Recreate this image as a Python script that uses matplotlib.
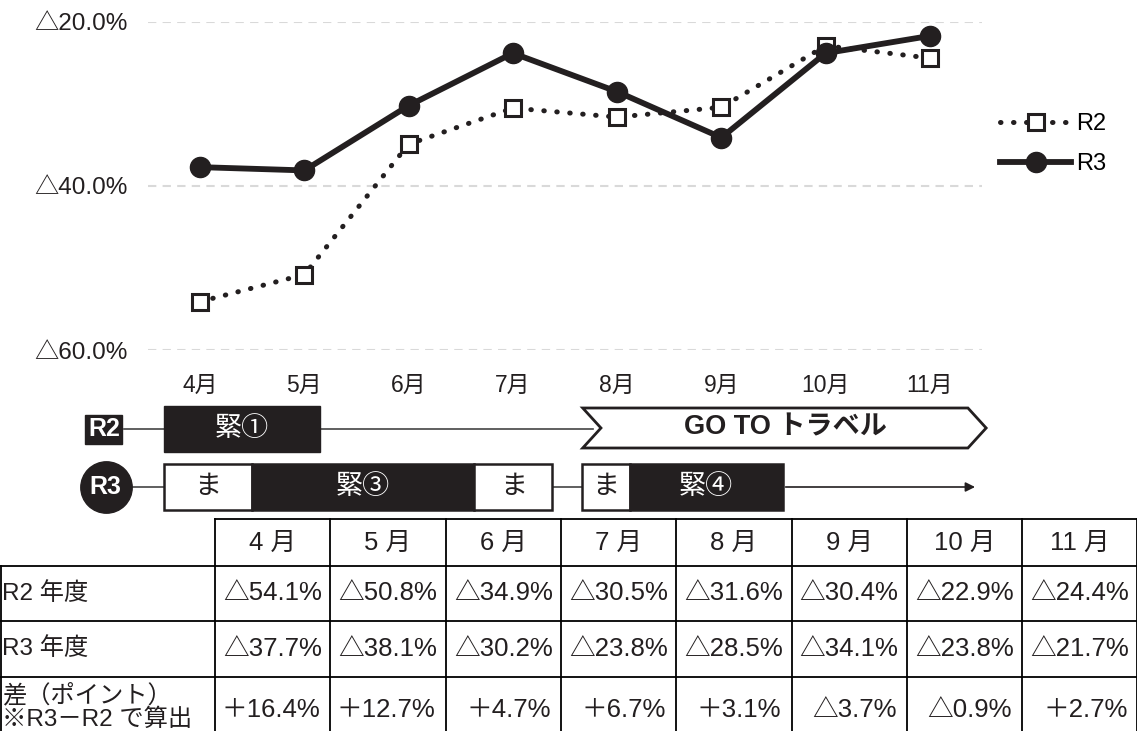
import numpy as np
import matplotlib.pyplot as plt
from matplotlib.patches import Rectangle, Polygon

plt.rcParams['font.family'] = ['Liberation Sans', 'Noto Sans CJK JP', 'DejaVu Sans']

# データ
months = ['4月', '5月', '6月', '7月', '8月', '9月', '10月', '11月']
table_months = ['4 月', '5 月', '6 月', '7 月', '8 月', '9 月', '10 月', '11 月']
r2 = [54.1, 50.8, 34.9, 30.5, 31.6, 30.4, 22.9, 24.4]   # △(減少率)
r3 = [37.7, 38.1, 30.2, 23.8, 28.5, 34.1, 23.8, 21.7]
yticks = [20, 40, 60]
row_labels = ['R2 年度', 'R3 年度', '差（ポイント）\n※R3－R2 で算出']

# 期間（月の位置で表す, 4月=0）
r2_names = ['緊①']
r2_start = [-0.35]
r2_end = [1.15]
goto_start, goto_end = 3.67, 7.365
r3_names = ['ま', '緊③', 'ま', 'ま', '緊④']
r3_start = [-0.35, 0.5, 2.63, 3.66, 4.12]
r3_end = [0.5, 2.63, 3.38, 4.12, 5.59]
r3_dark = [False, True, False, False, True]
r3_arrow_end = 7.46

dark = '#231f20'
W, H = 1137, 731
fig = plt.figure(figsize=(W / 100, H / 100), dpi=100)


def px(x0, y0, x1, y1):
    return [x0 / W, 1 - y1 / H, (x1 - x0) / W, (y1 - y0) / H]


# ---- 折れ線グラフ ----
ax = fig.add_axes(px(148, 22, 982, 350))
x = np.arange(len(months))
ax.plot(x, r2, color=dark, lw=3.6, linestyle=(0, (0.1, 2.5)), dash_capstyle='round',
        marker='s', markersize=11, markerfacecolor='white', markeredgecolor=dark,
        markeredgewidth=2.2, label='R2', clip_on=False, zorder=3)
ax.plot(x, r3, color=dark, lw=4.2, marker='o', markersize=14.5,
        label='R3', clip_on=False, zorder=4)
ax.set_xlim(-0.5, 7.5)
ax.set_ylim(60, 20)
ax.set_yticks(yticks)
ax.set_yticklabels(['△%.1f%%' % v for v in yticks], fontsize=17.5, color=dark)
ax.set_xticks(x)
ax.set_xticklabels(months, fontsize=16.5, color=dark)
ax.tick_params(length=0, axis='y', pad=15)
ax.tick_params(length=0, axis='x', pad=17)
ax.grid(axis='y', color='#d9d9d9', lw=1.5, linestyle=(0, (4, 3)))
for s in ax.spines.values():
    s.set_visible(False)
ax.legend(loc='center left', bbox_to_anchor=(0.861, 0.803), bbox_transform=fig.transFigure,
          frameon=False, fontsize=17, handlelength=3.0, handletextpad=0.2,
          labelspacing=0.75)

# ---- 期間表示 ----
tl = fig.add_axes(px(148, 400, 982, 515))
tl.set_xlim(-0.5, 7.5)
tl.set_ylim(515, 400)
tl.axis('off')

y2, y3 = 429, 487
tl.plot([-0.73, goto_start + 0.1], [y2, y2], color='#444444', lw=1.2, zorder=1, clip_on=False)
tl.text(-0.923, y2, 'R2', color='white', fontsize=18, fontweight='bold', ha='center', va='center',
        bbox=dict(boxstyle='square,pad=0.1', fc=dark, ec=dark))
for name, s, e in zip(r2_names, r2_start, r2_end):
    tl.add_patch(Rectangle((s, 406), e - s, 46, fc=dark, ec=dark, zorder=2, clip_on=False))
    tl.text((s + e) / 2, y2, name, color='white', fontsize=19.5, ha='center', va='center', zorder=3)

tip = 0.175
goto = Polygon([(goto_start, 408), (goto_end, 408), (goto_end + tip, 428),
                (goto_end, 448), (goto_start, 448), (goto_start + tip, 428)],
               closed=True, fc='white', ec=dark, lw=2, zorder=2, clip_on=False)
tl.add_patch(goto)
tl.text((goto_start + goto_end) / 2 + 0.1, 427, 'GO TO トラベル', fontsize=19.5, fontweight='bold',
        ha='center', va='center', color=dark, zorder=3)

tl.plot([-0.906, r3_end[-1]], [y3, y3], color='#444444', lw=1.2, zorder=1, clip_on=False)
tl.annotate('', xy=(r3_arrow_end, y3), xytext=(r3_end[-1], y3),
            arrowprops=dict(arrowstyle='-|>', color=dark, lw=1.2, mutation_scale=14))
tl.plot([-0.906], [y3], marker='o', markersize=37, color=dark, clip_on=False, zorder=2)
tl.text(-0.906, y3, 'R3', color='white', fontsize=18, fontweight='bold', ha='center', va='center', zorder=3)
for name, s, e, d in zip(r3_names, r3_start, r3_end, r3_dark):
    fc = dark if d else 'white'
    tc = 'white' if d else dark
    tl.add_patch(Rectangle((s, 464), e - s, 46, fc=fc, ec=dark, lw=1.8, zorder=2, clip_on=False))
    tl.text((s + e) / 2, y3, name, color=tc, fontsize=19.5, ha='center', va='center', zorder=3)

# ---- 表 ----
tb = fig.add_axes([0, 0, 1, 1], zorder=-1)
tb.set_xlim(0, W)
tb.set_ylim(H, 0)
tb.axis('off')
col0, colw = 215, 115.3
rows = [519, 566, 621, 677, 745]
right = col0 + colw * len(months)
lc = '#000000'
tb.plot([col0, right], [rows[0], rows[0]], color=lc, lw=1.3)
for r in rows[1:4]:
    tb.plot([1, right], [r, r], color=lc, lw=1.3)
tb.plot([1, 1], [rows[1], rows[-1]], color=lc, lw=1.3)
for i in range(len(months) + 1):
    xx = col0 + colw * i
    tb.plot([xx, xx], [rows[0], rows[-1]], color=lc, lw=1.3)

# 差 = R3 - R2（減少率なので符号が逆）
diff = [r2v - r3v for r2v, r3v in zip(r2, r3)]
fs = 18.5
for i, m in enumerate(table_months):
    cx = col0 + colw * (i + 0.5)
    tb.text(cx, (rows[0] + rows[1]) / 2, m, fontsize=fs, ha='center', va='center', color=dark)
    tb.text(cx, (rows[1] + rows[2]) / 2, '△%.1f%%' % r2[i], fontsize=fs, ha='center', va='center', color=dark)
    tb.text(cx, (rows[2] + rows[3]) / 2, '△%.1f%%' % r3[i], fontsize=fs, ha='center', va='center', color=dark)
    d = diff[i]
    s = ('＋%.1f%%' % d) if d > 0 else ('△%.1f%%' % abs(d))
    tb.text(col0 + colw * (i + 1) - 10, 710, s, fontsize=fs, ha='right', va='center', color=dark)

tb.text(2, (rows[1] + rows[2]) / 2, row_labels[0], fontsize=17.5, ha='left', va='center', color=dark)
tb.text(2, (rows[2] + rows[3]) / 2, row_labels[1], fontsize=17.5, ha='left', va='center', color=dark)
tb.text(2, 707, row_labels[2], fontsize=17.5, ha='left', va='center', color=dark, linespacing=1.05)

fig.savefig('out.png', dpi=100)
